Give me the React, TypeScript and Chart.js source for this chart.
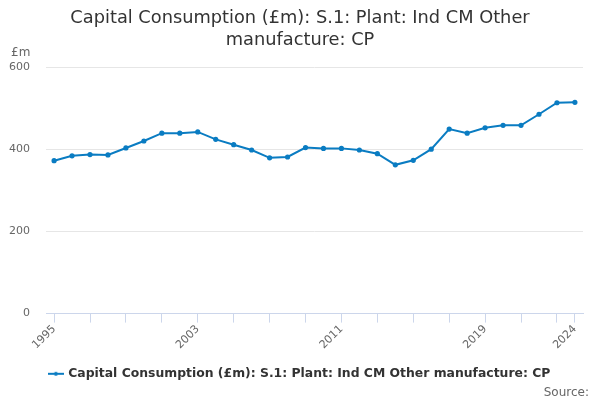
import { Chart, registerables } from 'chart.js';
import { useEffect, useRef, type FC } from 'react';

Chart.register(...registerables);

const years = [
  1995, 1996, 1997, 1998, 1999, 2000, 2001, 2002, 2003, 2004, 2005, 2006, 2007, 2008, 2009,
  2010, 2011, 2012, 2013, 2014, 2015, 2016, 2017, 2018, 2019, 2020, 2021, 2022, 2023, 2024,
];
const values = [
  372, 384, 387, 386, 403, 420, 439, 439, 442, 424, 411, 398, 379, 381, 404,
  402, 402, 398, 389, 362, 373, 400, 449, 439, 452, 458, 458, 485, 513, 514,
];
const tickYears = [1995, 1997, 1999, 2001, 2003, 2005, 2007, 2009, 2011, 2013, 2015, 2017, 2019, 2021, 2023, 2024];
const labelYears = [1995, 2003, 2011, 2019, 2024];
const yTicks = [0, 200, 400, 600];

const seriesName = 'Capital Consumption (£m): S.1: Plant: Ind CM Other manufacture: CP';
const titleLines = ['Capital Consumption (£m): S.1: Plant: Ind CM Other', 'manufacture: CP'];

const lineColor = '#0a7cc2';
const font = '"DejaVu Sans", sans-serif';

const makeLegendIcon = () => {
  const c = document.createElement('canvas');
  c.width = 16;
  c.height = 8;
  const ctx = c.getContext('2d');
  if (ctx) {
    ctx.strokeStyle = lineColor;
    ctx.lineWidth = 2;
    ctx.beginPath();
    ctx.moveTo(0, 4);
    ctx.lineTo(16, 4);
    ctx.stroke();
    ctx.fillStyle = lineColor;
    ctx.beginPath();
    ctx.arc(8, 4, 2, 0, Math.PI * 2);
    ctx.fill();
  }
  return c;
};

// title, unit label and source note drawn at fixed page positions
const extraText = {
  id: 'extraText',
  afterDraw(chart: Chart) {
    const { ctx } = chart;
    ctx.save();
    ctx.fillStyle = '#333333';
    ctx.font = `17.8px ${font}`;
    ctx.textAlign = 'center';
    ctx.textBaseline = 'middle';
    ctx.fillText(titleLines[0], 300, 18);
    ctx.fillText(titleLines[1], 300, 40);
    ctx.fillStyle = '#666666';
    ctx.font = `12px ${font}`;
    ctx.textBaseline = 'alphabetic';
    ctx.textAlign = 'left';
    ctx.fillText('£m', 11, 56);
    ctx.textAlign = 'right';
    ctx.fillText('Source:', 589, 396);
    ctx.restore();
  },
};

const App: FC = () => {
  const canvasRef = useRef<HTMLCanvasElement>(null);
  const chartRef = useRef<Chart | null>(null);

  useEffect(() => {
    if (!canvasRef.current) {
      return;
    }
    const context = canvasRef.current.getContext('2d');
    if (!context) {
      return;
    }

    chartRef.current = new Chart(context, {
      type: 'line',
      data: {
        datasets: [
          {
            label: seriesName,
            data: years.map((y, i) => ({ x: y, y: values[i] })),
            borderColor: lineColor,
            backgroundColor: lineColor,
            borderWidth: 2,
            pointRadius: 1.6,
            pointHoverRadius: 3,
            pointStyle: 'circle',
            tension: 0,
          },
        ],
      },
      options: {
        animation: false,
        responsive: true,
        maintainAspectRatio: false,
        layout: { padding: { left: 0, right: 0, top: 67, bottom: 10 } },
        scales: {
          x: {
            type: 'linear',
            min: 1994.55,
            max: 2024.45,
            afterBuildTicks: (scale) => {
              scale.ticks = tickYears.map((v) => ({ value: v }));
            },
            afterFit: (scale) => {
              scale.height = 44;
            },
            grid: {
              drawOnChartArea: false,
              drawTicks: true,
              tickLength: 9,
              color: '#ccd6eb',
            },
            border: { color: '#ccd6eb' },
            ticks: {
              autoSkip: false,
              maxRotation: 45,
              minRotation: 45,
              padding: 0,
              color: '#666666',
              font: { family: font, size: 11 },
              callback: (v) => (labelYears.includes(Number(v)) ? String(v) : ''),
            },
          },
          y: {
            min: 0,
            max: 600,
            afterBuildTicks: (scale) => {
              scale.ticks = yTicks.map((v) => ({ value: v }));
            },
            afterFit: (scale) => {
              scale.width = 46;
            },
            grid: { color: '#e6e6e6', drawTicks: false },
            border: { display: false },
            ticks: {
              padding: 16,
              color: '#666666',
              font: { family: font, size: 11 },
            },
          },
          // empty right-hand spacer so the plot ends where the reference's does
          spacer: {
            type: 'linear',
            position: 'right',
            display: true,
            grid: { display: false },
            border: { display: false },
            ticks: { display: false },
            afterFit: (scale) => {
              scale.width = 17;
            },
          },
        },
        plugins: {
          title: { display: false },
          legend: {
            position: 'bottom',
            labels: {
              usePointStyle: true,
              pointStyle: makeLegendIcon(),
              color: '#333333',
              font: { family: font, size: 12.4, weight: 'bold' },
              padding: 10,
            },
          },
          tooltip: { enabled: false },
        },
      },
      plugins: [extraText],
    });

    return () => {
      chartRef.current?.destroy();
    };
  }, []);

  return (
    <div style={{ position: 'fixed', left: 0, top: 0, width: 600, height: 400 }}>
      <canvas ref={canvasRef} />
    </div>
  );
};

export default App;
